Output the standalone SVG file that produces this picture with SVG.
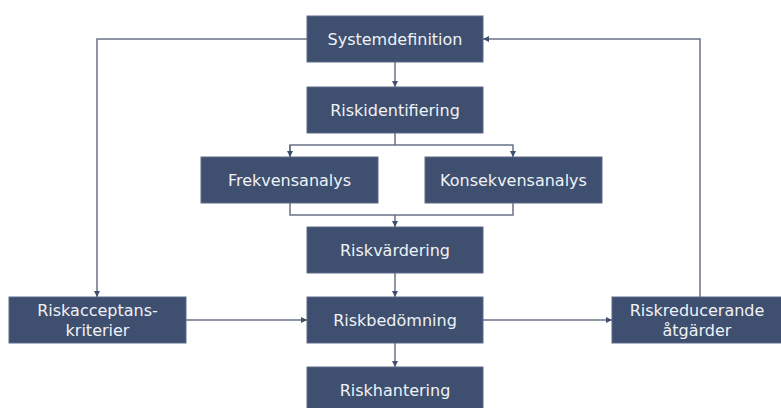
<svg xmlns="http://www.w3.org/2000/svg" width="781" height="408" viewBox="0 0 781 408">
<style>
.box{fill:#3e4f70;stroke:#5d6b88;stroke-width:1}
.t{font-family:"DejaVu Sans",Verdana,sans-serif;font-size:16px;fill:#f0f2f6;text-anchor:middle}
.c{fill:none;stroke:#6a7287;stroke-width:1.5}
</style>
<defs>
<marker id="ah" viewBox="0 0 10 10" refX="10" refY="5" markerWidth="6" markerHeight="6" markerUnits="userSpaceOnUse" orient="auto">
<path d="M0,0 L10,5 L0,10 Z" fill="#3e4f70"/>
</marker>
</defs>
<rect width="781" height="408" fill="#ffffff"/>
<g id="connectors">
<path class="c" d="M395,62 V87" marker-end="url(#ah)"/>
<path class="c" d="M395,133 V145 M290,157 V145 H513 V157" marker-end="url(#ah)"/>
<path class="c" d="M290,145 V157" marker-end="url(#ah)"/>
<path class="c" d="M290,203 V215 H513 V203 M395,215 V227" marker-end="url(#ah)"/>
<path class="c" d="M395,273 V297" marker-end="url(#ah)"/>
<path class="c" d="M395,343 V367" marker-end="url(#ah)"/>
<path class="c" d="M307,39 H97 V297" marker-end="url(#ah)"/>
<path class="c" d="M700,297 V39 H483" marker-end="url(#ah)"/>
<path class="c" d="M186,320 H307" marker-end="url(#ah)"/>
<path class="c" d="M483,320 H612" marker-end="url(#ah)"/>
</g>
<g id="systemdefinition"><rect class="box" x="307" y="16" width="176" height="46"/><text class="t" x="395" y="45">Systemdefinition</text></g>
<g id="riskidentifiering"><rect class="box" x="307" y="87" width="176" height="46"/><text class="t" x="395" y="116">Riskidentifiering</text></g>
<g id="frekvensanalys"><rect class="box" x="201" y="157" width="177" height="46"/><text class="t" x="289.5" y="186">Frekvensanalys</text></g>
<g id="konsekvensanalys"><rect class="box" x="425" y="157" width="177" height="46"/><text class="t" x="513.5" y="186">Konsekvensanalys</text></g>
<g id="riskvardering"><rect class="box" x="307" y="227" width="176" height="46"/><text class="t" x="395" y="256">Riskvärdering</text></g>
<g id="riskbedomning"><rect class="box" x="307" y="297" width="176" height="46"/><text class="t" x="395" y="326">Riskbedömning</text></g>
<g id="riskhantering"><rect class="box" x="307" y="367" width="176" height="46"/><text class="t" x="395" y="396">Riskhantering</text></g>
<g id="riskacceptans"><rect class="box" x="9" y="297" width="177" height="46"/><text class="t" x="97.5" y="316">Riskacceptans-</text><text class="t" x="97.5" y="336">kriterier</text></g>
<g id="riskreducerande"><rect class="box" x="612" y="297" width="170" height="46"/><text class="t" x="697" y="316">Riskreducerande</text><text class="t" x="697" y="336">åtgärder</text></g>
</svg>
